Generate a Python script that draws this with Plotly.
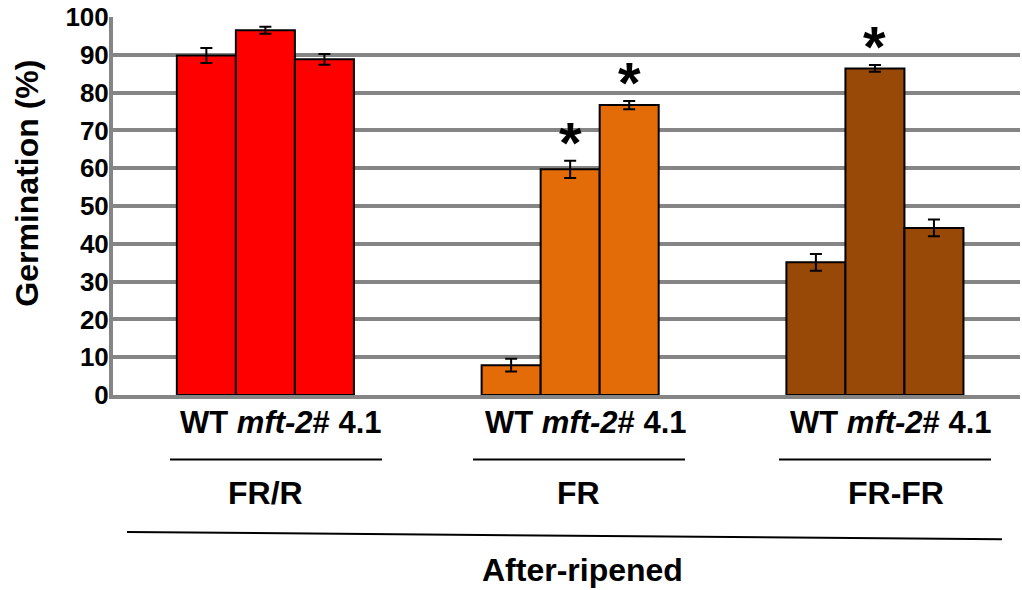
import plotly.graph_objects as go

# Germination of after-ripened seeds under three light treatments
treatments = ["FR/R", "FR", "FR-FR"]
genotypes = ["WT", "mft-2", "# 4.1"]
treatment_colors = ["#FF0000", "#E36C09", "#984807"]

wt_mean = [89.8, 7.9, 35.1]
wt_err = [2.0, 1.7, 2.2]
mft2_mean = [96.5, 59.7, 86.4]
mft2_err = [0.9, 2.3, 0.9]
line41_mean = [88.8, 76.7, 44.2]
line41_err = [1.4, 1.1, 2.2]

# significance flags (drawn as asterisks above bars)
wt_sig = [False, False, False]
mft2_sig = [False, True, True]
line41_sig = [False, True, False]

group_label = "WT <i>mft-2</i># 4.1"
y_ticks = [0, 10, 20, 30, 40, 50, 60, 70, 80, 90, 100]

W, H = 1022, 590
ML, MR, MT, MB = 113, 2, 14, 195
PW, PH = W - ML - MR, H - MT - MB
FONT = "Liberation Sans, Arial, sans-serif"
BARGAP = 0.419


def px_x(px):
    return (px - ML) / PW


def px_y(py):
    return (H - MB - py) / PH


series = [
    (genotypes[0], wt_mean, wt_err, wt_sig),
    (genotypes[1], mft2_mean, mft2_err, mft2_sig),
    (genotypes[2], line41_mean, line41_err, line41_sig),
]

fig = go.Figure()
for name, mean, err, _ in series:
    fig.add_trace(go.Bar(
        name=name,
        x=treatments,
        y=mean,
        marker=dict(color=treatment_colors, line=dict(color="black", width=2)),
        error_y=dict(type="data", array=err, color="black", thickness=2, width=6),
        showlegend=False,
    ))

annotations = []
bar_w = (1 - BARGAP) / len(series)
for j, (name, mean, err, sig) in enumerate(series):
    offset = (j - (len(series) - 1) / 2) * bar_w
    for i, flag in enumerate(sig):
        if flag:
            annotations.append(dict(
                x=i + offset, y=mean[i] + err[i], xref="x", yref="y",
                text="<b>*</b>", showarrow=False, yanchor="bottom",
                yshift=-16, font=dict(family=FONT, size=58, color="black"),
            ))

# group labels under each treatment
for i, t in enumerate(treatments):
    annotations.append(dict(
        x=i, y=px_y(423), xref="x", yref="paper", xshift=16,
        text=f"<b>{group_label}</b>", showarrow=False, yanchor="middle",
        font=dict(family=FONT, size=31, color="black"),
    ))
    annotations.append(dict(
        x=i, y=px_y(494), xref="x", yref="paper", xshift=[0, 8, 21][i],
        text=f"<b>{t}</b>", showarrow=False, yanchor="middle",
        font=dict(family=FONT, size=32, color="black"),
    ))

annotations.append(dict(
    x=px_x(582), y=px_y(571), xref="paper", yref="paper",
    text="<b>After-ripened</b>", showarrow=False, yanchor="middle",
    font=dict(family=FONT, size=32, color="black"),
))
annotations.append(dict(
    x=px_x(27), y=px_y(182), xref="paper", yref="paper",
    text="<b>Germination (%)</b>", showarrow=False, textangle=-90,
    xanchor="center", yanchor="middle",
    font=dict(family=FONT, size=32, color="black"),
))

shapes = []
for x0, x1 in [(170, 382), (473, 685), (779, 991)]:
    shapes.append(dict(type="line", xref="paper", yref="paper",
                       x0=px_x(x0), x1=px_x(x1), y0=px_y(460), y1=px_y(460),
                       line=dict(color="black", width=2)))
shapes.append(dict(type="line", xref="paper", yref="paper",
                   x0=px_x(127), x1=px_x(1002), y0=px_y(533), y1=px_y(540.5),
                   line=dict(color="black", width=2)))

fig.update_layout(
    width=W, height=H,
    margin=dict(l=ML, r=MR, t=MT, b=MB, pad=0),
    paper_bgcolor="white", plot_bgcolor="white",
    barmode="group", bargap=BARGAP, bargroupgap=0,
    annotations=annotations, shapes=shapes,
    font=dict(family=FONT, color="black"),
)
fig.update_xaxes(
    range=[-0.5, 2.476], showticklabels=False, showgrid=False,
    showline=True, linecolor="#858585", linewidth=4, ticks="",
    zeroline=False, layer="below traces",
)
fig.update_yaxes(
    range=[0, 100], tickvals=y_ticks, ticktext=[f"<b>{v}</b>" for v in y_ticks],
    tickfont=dict(family=FONT, size=26, color="black"),
    ticklabeloverflow="allow", ticklabelstandoff=-5,
    showgrid=True, gridcolor="#858585", gridwidth=4,
    showline=True, linecolor="#858585", linewidth=4, ticks="",
    zeroline=False, layer="below traces",
)

fig.write_html("out.html")
